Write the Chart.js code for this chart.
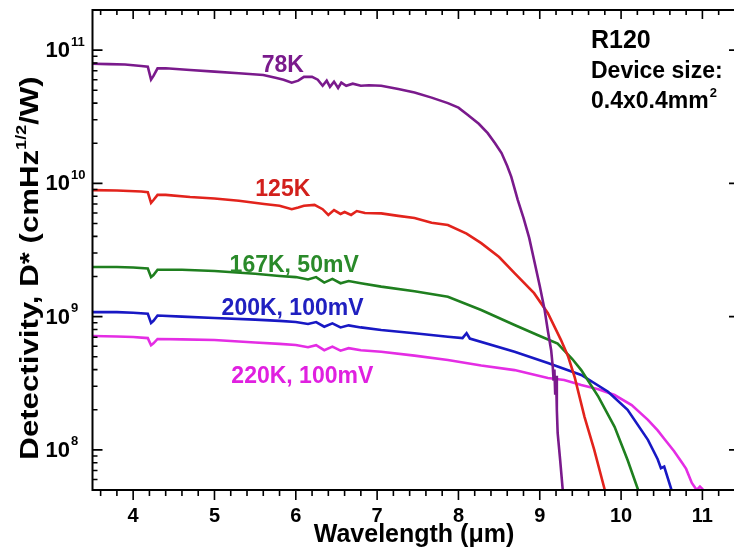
<!DOCTYPE html>
<html>
<head>
<meta charset="utf-8">
<script src="https://cdn.jsdelivr.net/npm/chart.js@4.4.1/dist/chart.umd.min.js"></script>
<style>
  html, body { margin: 0; padding: 0; overflow: hidden; background: #fff; }
  canvas { display: block; }
</style>
</head>
<body>
<canvas id="dstar" width="742" height="554"></canvas>
<script>
// Detectivity spectra
// wavelength in um, D* in cmHz^1/2/W

const wl78 = [3.5, 3.7, 3.9, 4.1, 4.18, 4.22, 4.25, 4.3, 4.4, 4.7, 5.0, 5.3, 5.6, 5.75, 5.85, 5.95, 6.03, 6.1, 6.2, 6.27, 6.33, 6.38, 6.42, 6.47, 6.52, 6.56, 6.62, 6.7, 6.8, 6.9, 7.05, 7.26, 7.46, 7.67, 7.87, 8.0, 8.12, 8.25, 8.36, 8.45, 8.53, 8.6, 8.65, 8.73, 8.8, 8.87, 8.93, 9.0, 9.06, 9.1, 9.14, 9.16, 9.17, 9.18, 9.19, 9.2, 9.21, 9.22, 9.25, 9.28, 9.3];
const d78 = [7.9e10, 7.85e10, 7.8e10, 7.6e10, 7.5e10, 6.0e10, 6.4e10, 7.3e10, 7.3e10, 7.1e10, 6.9e10, 6.7e10, 6.5e10, 6.2e10, 6.0e10, 5.7e10, 5.9e10, 6.3e10, 6.3e10, 6.0e10, 5.4e10, 5.9e10, 5.3e10, 5.8e10, 5.2e10, 5.7e10, 5.4e10, 5.6e10, 5.4e10, 5.45e10, 5.4e10, 5.1e10, 4.8e10, 4.4e10, 4.0e10, 3.7e10, 3.25e10, 2.8e10, 2.38e10, 2.0e10, 1.69e10, 1.35e10, 1.12e10, 7.5e9, 5.5e9, 3.9e9, 2.66e9, 1.7e9, 1.12e9, 7.8e8, 5.6e8, 4.2e8, 3.3e8, 4.0e8, 2.6e8, 3.6e8, 2.0e8, 1.34e8, 8.5e7, 5.2e7, 4.0e7];

const wl125 = [3.5, 3.8, 4.1, 4.18, 4.22, 4.25, 4.3, 4.4, 4.7, 5.0, 5.3, 5.61, 5.8, 5.95, 6.03, 6.1, 6.23, 6.33, 6.4, 6.47, 6.55, 6.6, 6.68, 6.75, 6.85, 7.05, 7.26, 7.46, 7.67, 7.87, 8.1, 8.28, 8.5, 8.69, 8.93, 9.1, 9.26, 9.35, 9.43, 9.55, 9.67, 9.8, 9.83];
const d125 = [8.9e9, 8.85e9, 8.7e9, 8.6e9, 7.15e9, 7.5e9, 8.2e9, 8.2e9, 7.9e9, 7.7e9, 7.4e9, 7.0e9, 6.8e9, 6.4e9, 6.6e9, 6.8e9, 6.9e9, 6.4e9, 5.8e9, 6.3e9, 5.9e9, 6.1e9, 5.8e9, 6.2e9, 6.0e9, 5.95e9, 5.7e9, 5.5e9, 5.06e9, 4.87e9, 4.2e9, 3.56e9, 2.8e9, 2.12e9, 1.5e9, 1.06e9, 6.7e8, 5.0e8, 3.5e8, 1.77e8, 1.0e8, 5.0e7, 4.5e7];

const wl167 = [3.5, 3.8, 4.0, 4.18, 4.22, 4.25, 4.3, 4.6, 5.0, 5.5, 5.8, 6.0, 6.15, 6.25, 6.35, 6.45, 6.55, 6.65, 6.8, 7.05, 7.46, 7.87, 8.28, 8.69, 9.0, 9.22, 9.4, 9.51, 9.72, 9.92, 10.08, 10.21, 10.23];
const d167 = [2.36e9, 2.36e9, 2.34e9, 2.3e9, 1.98e9, 2.05e9, 2.25e9, 2.25e9, 2.2e9, 2.1e9, 2.02e9, 1.98e9, 1.9e9, 1.98e9, 1.8e9, 1.92e9, 1.78e9, 1.85e9, 1.78e9, 1.68e9, 1.55e9, 1.41e9, 1.12e9, 8.65e8, 7.15e8, 6.28e8, 4.81e8, 3.97e8, 2.51e8, 1.49e8, 8.4e7, 5.0e7, 4.6e7];

const wl200 = [3.5, 3.8, 4.0, 4.18, 4.22, 4.25, 4.3, 4.6, 5.0, 5.5, 5.8, 6.0, 6.15, 6.25, 6.35, 6.45, 6.55, 6.65, 6.8, 7.05, 7.46, 7.87, 8.05, 8.1, 8.14, 8.69, 9.1, 9.51, 9.84, 10.08, 10.33, 10.45, 10.49, 10.53, 10.62, 10.64];
const d200 = [1.08e9, 1.08e9, 1.07e9, 1.05e9, 8.96e8, 9.3e8, 1.02e9, 1.0e9, 9.77e8, 9.5e8, 9.3e8, 9.12e8, 8.8e8, 9.1e8, 8.4e8, 8.9e8, 8.3e8, 8.6e8, 8.3e8, 7.93e8, 7.5e8, 7.06e8, 6.9e8, 7.5e8, 6.85e8, 5.45e8, 4.49e8, 3.65e8, 2.73e8, 2.0e8, 1.19e8, 8.5e7, 7.3e7, 7.5e7, 5.0e7, 4.6e7];

const wl220 = [3.5, 3.8, 4.0, 4.18, 4.22, 4.25, 4.3, 4.6, 5.0, 5.5, 5.8, 6.0, 6.15, 6.25, 6.35, 6.45, 6.55, 6.65, 6.8, 7.05, 7.46, 7.87, 8.28, 8.69, 9.1, 9.3, 9.51, 9.72, 9.92, 10.13, 10.33, 10.45, 10.54, 10.65, 10.75, 10.8, 10.87, 10.93, 10.97, 11.0, 11.02];
const d220 = [7.16e8, 7.1e8, 7.03e8, 6.9e8, 6.1e8, 6.3e8, 6.8e8, 6.75e8, 6.68e8, 6.4e8, 6.25e8, 6.12e8, 5.9e8, 6.1e8, 5.6e8, 5.95e8, 5.55e8, 5.8e8, 5.6e8, 5.45e8, 5.1e8, 4.72e8, 4.3e8, 3.97e8, 3.46e8, 3.35e8, 3.07e8, 2.85e8, 2.58e8, 2.17e8, 1.68e8, 1.4e8, 1.19e8, 9.8e7, 8.0e7, 7.2e7, 5.65e7, 5.0e7, 5.3e7, 5.1e7, 4.6e7];

const seriesNames = ['78K', '125K', '167K, 50mV', '200K, 100mV', '220K, 100mV'];
const seriesWl = [wl78, wl125, wl167, wl200, wl220];
const seriesD = [d78, d125, d167, d200, d220];
const seriesColors = ['#7a1a8c', '#e2231c', '#1f7f1f', '#1818c4', '#e42de4'];

const xMajorTicks = [4, 5, 6, 7, 8, 9, 10, 11];
const yMajorExp = [8, 9, 10, 11];

// in-plot labels, anchored in data coordinates
const curveLabels = [
    { text: '78K', x: 5.84, y: 7.6e10, color: '#7a1a8c' },
    { text: '125K', x: 5.84, y: 8.9e9, color: '#d2201c' },
    { text: '167K, 50mV', x: 5.98, y: 2.4e9, color: '#2a8a2a' },
    { text: '200K, 100mV', x: 5.96, y: 1.14e9, color: '#2020c0' },
    { text: '220K, 100mV', x: 6.08, y: 3.52e8, color: '#e020e0' }
];

const BOLD = 'bold {s}px "Liberation Sans", Arial, sans-serif';
function font(size) { return BOLD.replace('{s}', size); }

const datasets = seriesNames.map(function (name, i) {
    return {
        label: name,
        data: seriesWl[i].map(function (w, j) { return { x: w, y: seriesD[i][j] }; }),
        borderColor: seriesColors[i],
        borderWidth: 2.6,
        pointRadius: 0,
        tension: 0,
        fill: false
    };
});

// axis frame, ticks and all the text
const framePlugin = {
    id: 'frame',
    afterDatasetsDraw(chart) {
        const ctx = chart.ctx;
        const a = chart.chartArea;
        const xs = chart.scales.x;
        const ys = chart.scales.y;
        ctx.save();
        ctx.strokeStyle = '#000';
        ctx.lineWidth = 2;
        ctx.beginPath();
        ctx.moveTo(a.right, a.top); ctx.lineTo(a.left, a.top);
        ctx.lineTo(a.left, a.bottom); ctx.lineTo(a.right, a.bottom);
        ctx.stroke();
        ctx.strokeStyle = '#cfcfcf';
        ctx.lineWidth = 1;
        ctx.beginPath(); ctx.moveTo(a.right, a.top); ctx.lineTo(a.right, a.bottom); ctx.stroke();

        // x ticks every 0.2, top ones hang inside, bottom ones outside
        ctx.strokeStyle = '#000';
        ctx.lineWidth = 1.6;
        for (let i = 18; i <= 57; i++) {
            const px = xs.getPixelForValue(i / 5);
            const len = i % 5 === 0 ? 9 : 5;
            ctx.beginPath();
            ctx.moveTo(px, a.top); ctx.lineTo(px, a.top + len);
            ctx.moveTo(px, a.bottom); ctx.lineTo(px, a.bottom + len + 1);
            ctx.stroke();
        }
        // y ticks, log minor
        for (let d = 7; d <= 11; d++) {
            for (let m = 1; m <= 9; m++) {
                const v = m * Math.pow(10, d);
                if (v < ys.min || v > ys.max) continue;
                const py = ys.getPixelForValue(v);
                const len = m === 1 ? 10 : 5;
                ctx.beginPath();
                ctx.moveTo(a.left, py); ctx.lineTo(a.left + len, py);
                ctx.moveTo(a.right, py); ctx.lineTo(a.right - len, py);
                ctx.stroke();
            }
        }

        ctx.fillStyle = '#000';
        ctx.textBaseline = 'middle';
        // x tick labels
        ctx.font = font(20);
        ctx.textAlign = 'center';
        xMajorTicks.forEach(function (v) {
            ctx.fillText(String(v), xs.getPixelForValue(v), a.bottom + 26);
        });
        // y tick labels 10^n
        yMajorExp.forEach(function (e) {
            const py = ys.getPixelForValue(Math.pow(10, e));
            ctx.font = font(22);
            ctx.textAlign = 'right';
            ctx.fillText('10', 70, py + 1);
            ctx.font = font(13);
            ctx.textAlign = 'left';
            ctx.fillText(String(e), 71, py - 8);
        });

        // x title
        ctx.font = font(25);
        ctx.textAlign = 'center';
        ctx.fillText('Wavelength (\u03bcm)', 414, 535);

        // y title with superscript 1/2, text a bit stretched along its run like the source
        ctx.save();
        ctx.translate(31, 268);
        ctx.rotate(-Math.PI / 2);
        ctx.scale(1.2, 1);
        const p1 = 'Detectivity, D* (cmHz', sup = '1/2', p2 = '/W)';
        ctx.font = font(26);
        const w1 = ctx.measureText(p1).width, w3 = ctx.measureText(p2).width;
        ctx.font = font(15);
        const w2 = ctx.measureText(sup).width;
        const sx = -(w1 + w2 + w3) / 2;
        ctx.textAlign = 'left';
        ctx.font = font(26);
        ctx.fillText(p1, sx, 0);
        ctx.font = font(15);
        ctx.fillText(sup, sx + w1, -9);
        ctx.font = font(26);
        ctx.fillText(p2, sx + w1 + w2, 0);
        ctx.restore();

        // curve labels
        ctx.textAlign = 'center';
        ctx.font = font(23);
        curveLabels.forEach(function (l) {
            ctx.fillStyle = l.color;
            ctx.fillText(l.text, xs.getPixelForValue(l.x), ys.getPixelForValue(l.y));
        });

        // sample note, top right
        ctx.fillStyle = '#000';
        ctx.textAlign = 'left';
        ctx.font = font(25);
        ctx.fillText('R120', 591, 41);
        ctx.font = font(23);
        ctx.fillText('Device size:', 591, 72);
        const t = '0.4x0.4mm';
        ctx.fillText(t, 591, 102);
        const tw = ctx.measureText(t).width;
        ctx.font = font(13);
        ctx.fillText('2', 591 + tw + 1, 93);
        ctx.restore();
    }
};

new Chart(document.getElementById('dstar'), {
    type: 'line',
    data: { datasets: datasets },
    options: {
        responsive: false,
        devicePixelRatio: 1,
        animation: false,
        layout: { padding: { top: 10, right: 3, left: 0, bottom: 0 } },
        plugins: { legend: { display: false }, tooltip: { enabled: false } },
        scales: {
            x: {
                type: 'linear', min: 3.5, max: 11.45,
                grid: { display: false }, border: { display: false },
                ticks: { display: false },
                afterFit: function (s) { s.height = 64; }
            },
            y: {
                type: 'logarithmic', min: 5e7, max: 2e11,
                grid: { display: false }, border: { display: false },
                ticks: { display: false },
                afterFit: function (s) { s.width = 92.5; }
            }
        }
    },
    plugins: [framePlugin]
});
</script>
</body>
</html>
